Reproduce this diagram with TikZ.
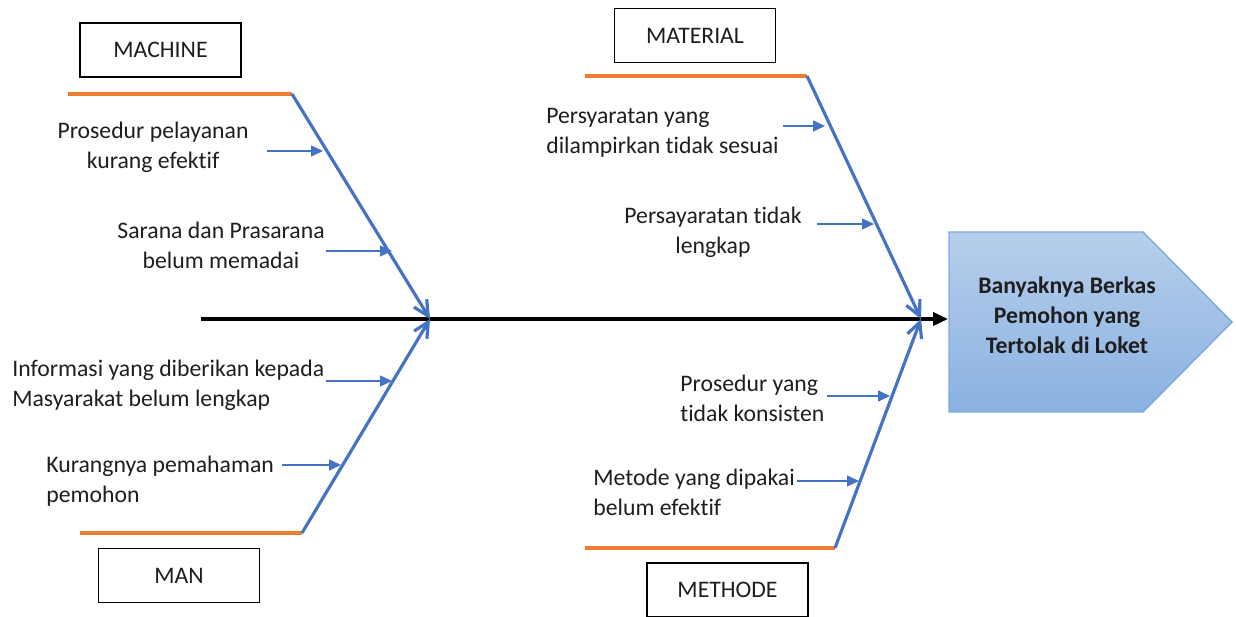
\documentclass[tikz,border=0pt]{standalone}
\usepackage{fontspec}
\setmainfont[Ligatures=NoCommon]{Carlito}
\usetikzlibrary{arrows.meta,positioning}
\definecolor{FishOrange}{HTML}{ED7D31}
\definecolor{FishBlue}{HTML}{4472C4}
\definecolor{HeadTop}{HTML}{B7CFEB}
\definecolor{HeadBottom}{HTML}{8AB1E1}
\definecolor{HeadEdge}{HTML}{7DAADD}
\definecolor{FishInk}{HTML}{1E1E1E}

\begin{document}
\begin{tikzpicture}[x=0.02cm,y=-0.02cm,
    font=\fontsize{13.5}{17}\selectfont,
    catbox/.style={draw,thick,minimum width=3.22cm,minimum height=1.08cm,inner sep=0pt,text=FishInk},
    rib/.style={draw=FishOrange,line width=1.9pt},
    bone/.style={draw=FishBlue,line width=1.8pt,-{Straight Barb[length=3mm,width=3mm]}},
    cause/.style={draw=FishBlue,line width=0.8pt,-{Triangle[length=2.4mm,width=2.2mm]}},
    causetext/.style={inner sep=0pt,text=FishInk}
  ]
  \useasboundingbox (0,0) rectangle (1236,617);

  % head of the fish
  \path[draw=HeadEdge,thick,top color=HeadTop,bottom color=HeadBottom]
    (949,232) -- (1143,232) -- (1232,322) -- (1143,412) -- (949,412) -- cycle;
  \node[align=center,font=\fontsize{13.5}{17}\selectfont\bfseries,text=FishInk] (effect) at (1067,315)
    {Banyaknya Berkas\\Pemohon yang\\Tertolak di Loket};

  % spine
  \coordinate (tail) at (201,319);
  \coordinate (headtip) at (948,319);
  \coordinate (leftjoin) at (430,319);
  \coordinate (rightjoin) at (921,319);
  \draw[line width=2pt,-{Triangle[length=3mm,width=2.6mm]}] (tail) -- (headtip);

  % categories
  \node[catbox] (machine) at (160.5,50) {MACHINE};
  \node[catbox] (man) at (179,575.5) {MAN};
  \node[catbox] (material) at (695,35.5) {MATERIAL};
  \node[catbox] (methode) at (727.5,590) {METHODE};

  % ribs and bones
  \coordinate (machA) at (68,94);   \coordinate (machB) at (292,94);
  \coordinate (manA) at (80,533);   \coordinate (manB) at (302,533);
  \coordinate (matA) at (585,76);   \coordinate (matB) at (807,76);
  \coordinate (metA) at (585,548);  \coordinate (metB) at (835,548);
  \draw[rib] (machA) -- (machB);
  \draw[rib] (manA) -- (manB);
  \draw[rib] (matA) -- (matB);
  \draw[rib] (metA) -- (metB);
  \draw[bone] (machB) -- (leftjoin);
  \draw[bone] (manB) -- (leftjoin);
  \draw[bone] (matB) -- (rightjoin);
  \draw[bone] (metB) -- (rightjoin);

  % causes
  \node[causetext,align=center] (c1) at (153,147) {Prosedur pelayanan\\kurang efektif};
  \node[causetext,align=center] (c2) at (221,245) {Sarana dan Prasarana\\belum memadai};
  \node[causetext,align=left,anchor=west] (c3) at (12,385) {Informasi yang diberikan kepada\\Masyarakat belum lengkap};
  \node[causetext,align=left,anchor=west] (c4) at (46,481) {Kurangnya pemahaman\\pemohon};
  \node[causetext,align=left,anchor=west] (c5) at (546,133) {Persyaratan yang\\dilampirkan tidak sesuai};
  \node[causetext,align=center] (c6) at (713,232) {Persayaratan tidak\\lengkap};
  \node[causetext,align=left,anchor=west] (c7) at (680,398) {Prosedur yang\\tidak konsisten};
  \node[causetext,align=left,anchor=west] (c8) at (593,492) {Metode yang dipakai\\belum efektif};

  \coordinate (s1) at (267,151); \coordinate (e1) at (323,151);
  \coordinate (s2) at (326,251); \coordinate (e2) at (392,251);
  \coordinate (s3) at (326,381); \coordinate (e3) at (392,381);
  \coordinate (s4) at (282,465); \coordinate (e4) at (341,465);
  \coordinate (s5) at (783,126); \coordinate (e5) at (825,126);
  \coordinate (s6) at (817,224); \coordinate (e6) at (874,224);
  \coordinate (s7) at (827,396); \coordinate (e7) at (890,396);
  \coordinate (s8) at (797,481); \coordinate (e8) at (859,481);
  \foreach \i in {1,...,8}
    \draw[cause] (s\i) -- (e\i);
\end{tikzpicture}
\end{document}
